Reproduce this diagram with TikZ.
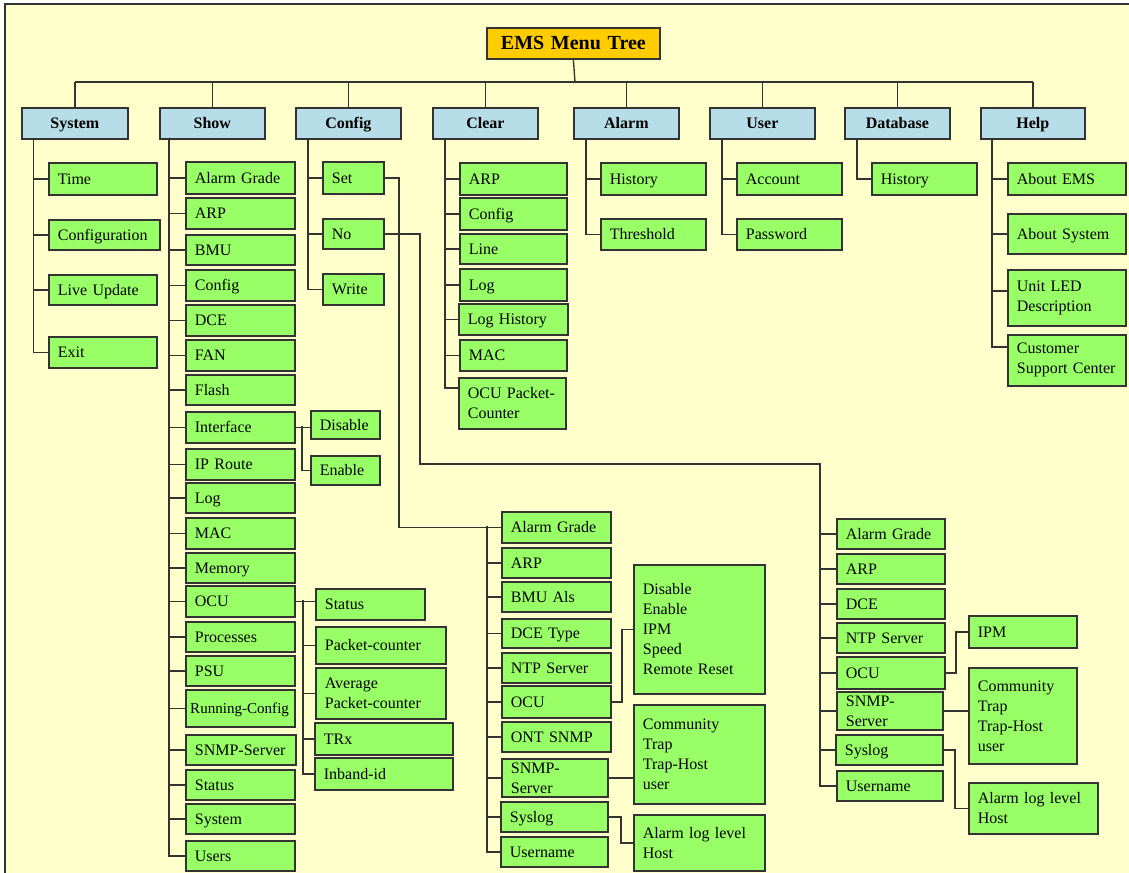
\documentclass[tikz,border=0pt]{standalone}
\usepackage{fontspec}
\setmainfont{Liberation Serif}
\usetikzlibrary{calc}
\definecolor{bgy}{HTML}{FFFFCC}
\definecolor{grn}{HTML}{99FF66}
\definecolor{hdr}{HTML}{B7DEE8}
\definecolor{gold}{HTML}{FFCC00}
\definecolor{ln}{HTML}{333333}
\newcommand\mkbox[7][gone]{%
 \pgfmathsetmacro\mybw{(#5-#3)*0.75}%
 \pgfmathsetmacro\mybh{(#6-#4)*0.75}%
 \pgfmathsetmacro\mytw{(#5-#3)*0.75-13.5}%
 \node[#1,minimum width=\mybw pt,minimum height=\mybh pt,text width=\mytw pt,anchor=north west] (#2) at (#3,#4) {#7};}
\tikzset{
 base/.style={draw=ln,line width=1.3pt,inner xsep=6.75pt,inner ysep=0pt,font=\fontsize{12}{15}\selectfont},
 gbox/.style={base,fill=grn,align=left},
 gone/.style={gbox,text height=9.5pt,text depth=1.5pt},
 hbox/.style={base,fill=hdr,align=center,font=\fontsize{12}{15}\selectfont\bfseries,text height=9.5pt,text depth=1.5pt},
 tbox/.style={base,fill=gold,align=center,font=\fontsize{15}{18}\selectfont\bfseries,text height=11.5pt,text depth=2pt},
 conn/.style={draw=ln,line width=1pt},
}
\begin{document}
\begin{tikzpicture}[x=0.75pt,y=-0.75pt]
\useasboundingbox (0,0) rectangle (1129,873);
\fill[bgy] (5,4) rectangle (1129,873);
\draw[line width=1.2pt,ln] (5,873) -- (5,4) -- (1129,4);

% title and headers
\mkbox[tbox]{title}{486}{27}{659}{58}{EMS Menu Tree}
\mkbox[hbox]{sys}{21}{107}{127}{138}{System}
\mkbox[hbox]{show}{159}{107}{264}{138}{Show}
\mkbox[hbox]{cfg}{295}{107}{400}{138}{Config}
\mkbox[hbox]{clr}{432}{107}{537}{138}{Clear}
\mkbox[hbox]{alm}{573}{107}{678}{138}{Alarm}
\mkbox[hbox]{usr}{709}{107}{814}{138}{User}
\mkbox[hbox]{db}{844}{107}{949}{138}{Database}
\mkbox[hbox]{hlp}{980}{107}{1084}{138}{Help}

% System
\mkbox{sysa}{48}{162}{156}{194}{Time}
\mkbox{sysb}{48}{219}{159}{249}{Configuration}
\mkbox{sysc}{48}{274}{156}{304}{Live Update}
\mkbox{sysd}{48}{336}{156}{367}{Exit}

% Show
\mkbox{sh1}{185}{161}{294}{193}{Alarm Grade}
\mkbox{sh2}{185}{197}{294}{228}{ARP}
\mkbox{sh3}{185}{234}{294}{264}{BMU}
\mkbox{sh4}{185}{269}{294}{300}{Config}
\mkbox{sh5}{185}{304}{294}{335}{DCE}
\mkbox{sh6}{185}{339}{294}{370}{FAN}
\mkbox{sh7}{185}{374}{294}{404}{Flash}
\mkbox{sh8}{185}{411}{294}{442}{Interface}
\mkbox{sh9}{185}{448}{294}{479}{IP Route}
\mkbox{sh10}{185}{482}{294}{512}{Log}
\mkbox{sh11}{185}{517}{294}{548}{MAC}
\mkbox{sh12}{185}{552}{294}{582}{Memory}
\mkbox{sh13}{185}{585}{294}{616}{OCU}
\mkbox{sh14}{185}{621}{294}{651}{Processes}
\mkbox{sh15}{185}{655}{294}{685}{PSU}
\mkbox{sh16}{185}{689}{294}{726}{\mbox{\hspace{-3.5pt}\fontsize{11.3}{13}\selectfont Running-Config}}
\mkbox{sh17}{185}{734}{295}{764}{\mbox{SNMP-Server}}
\mkbox{sh18}{185}{769}{294}{799}{Status}
\mkbox{sh19}{185}{803}{294}{833}{System}
\mkbox{sh20}{185}{840}{294}{870}{Users}

\mkbox{shi1}{310}{410}{379}{438}{Disable}
\mkbox{shi2}{310}{455}{379}{484}{Enable}

\mkbox{sho1}{315}{588}{424}{619}{Status}
\mkbox{sho2}{315}{626}{445}{663}{\mbox{Packet-counter}}
\mkbox[gbox]{sho3}{315}{667}{445}{718}{Average\\\mbox{Packet-counter}}
\mkbox{sho4}{314}{722}{452}{754}{TRx}
\mkbox{sho5}{314}{757}{452}{789}{Inband-id}

% Config
\mkbox{cf1}{322}{161}{383}{193}{Set}
\mkbox{cf2}{322}{218}{383}{248}{No}
\mkbox{cf3}{322}{273}{383}{304}{Write}

% Clear
\mkbox{cl1}{459}{162}{566}{194}{ARP}
\mkbox{cl2}{459}{197}{566}{229}{Config}
\mkbox{cl3}{459}{233}{566}{263}{Line}
\mkbox{cl4}{459}{268}{566}{300}{Log}
\mkbox{cl5}{458}{303}{567}{334}{Log History}
\mkbox{cl6}{459}{339}{566}{370}{MAC}
\mkbox[gbox]{cl7}{458}{377}{565}{428}{\mbox{OCU Packet-}\\Counter}

% Alarm, User, Database
\mkbox{al1}{600}{162}{705}{194}{History}
\mkbox{al2}{600}{218}{705}{249}{Threshold}
\mkbox{us1}{736}{162}{841}{194}{Account}
\mkbox{us2}{736}{218}{841}{249}{Password}
\mkbox{db1}{871}{162}{976}{194}{History}

% Help
\mkbox{hp1}{1007}{162}{1125}{194}{About EMS}
\mkbox{hp2}{1007}{213}{1125}{253}{About System}
\mkbox[gbox]{hp3}{1007}{269}{1125}{325}{Unit LED\\Description}
\mkbox[gbox]{hp4}{1007}{334}{1125}{385}{Customer\\Support Center}

% Set list
\mkbox{st1}{501}{511}{610}{542}{Alarm Grade}
\mkbox{st2}{501}{547}{610}{577}{ARP}
\mkbox{st3}{501}{581}{610}{611}{BMU Als}
\mkbox{st4}{501}{618}{610}{647}{DCE Type}
\mkbox{st5}{501}{652}{610}{682}{NTP Server}
\mkbox{st6}{501}{685}{610}{717}{OCU}
\mkbox{st7}{501}{721}{610}{751}{ONT SNMP}
\mkbox[gbox]{st8}{501}{758}{607}{796}{SNMP-\\Server}
\mkbox{st9}{500}{801}{607}{831}{Syslog}
\mkbox{st10}{500}{836}{607}{866}{Username}
\mkbox[gbox]{sto}{633}{564}{764}{693}{Disable\\Enable\\IPM\\Speed\\Remote Reset}
\mkbox[gbox]{sts}{633}{704}{764}{803}{Community\\Trap\\Trap-Host\\user}
\mkbox[gbox]{sty}{633}{814}{764}{870}{Alarm log level\\Host}

% No list
\mkbox{no1}{836}{518}{944}{548}{Alarm Grade}
\mkbox{no2}{836}{553}{944}{583}{ARP}
\mkbox{no3}{836}{588}{944}{618}{DCE}
\mkbox{no4}{836}{622}{944}{652}{NTP Server}
\mkbox{no5}{836}{656}{944}{688}{OCU}
\mkbox[gbox]{no6}{836}{691}{942}{729}{SNMP-\\Server}
\mkbox{no7}{835}{734}{942}{764}{Syslog}
\mkbox{no8}{836}{770}{942}{800}{Username}
\mkbox{noi}{968}{615}{1076}{647}{IPM}
\mkbox[gbox]{nos}{968}{667}{1076}{763}{Community\\Trap\\Trap-Host\\user}
\mkbox[gbox]{noy}{968}{782}{1097}{833}{Alarm log level\\Host}

% ---------- connectors ----------
\coordinate (bus) at (575,82);
\draw[conn] (title.south) -- (bus);
\draw[conn] (sys.north |- bus) -- (hlp.north |- bus);
\foreach \n in {sys,show,cfg,clr,alm,usr,db,hlp}
  \draw[conn] (\n.north) -- (\n.north |- bus);

\coordinate (sysS) at (33.7,138);
\foreach \c in {sysa,sysb,sysc,sysd} \draw[conn] (sysS) |- (\c.west);

\coordinate (showS) at (169,138);
\foreach \c in {sh1,sh2,sh3,sh4,sh5,sh6,sh7,sh8,sh9,sh10,sh11,sh12,sh13,sh14,sh15,sh16,sh17,sh18,sh19,sh20}
  \draw[conn] (showS) |- (\c.west);

\coordinate (intfJ) at (302,426.5);
\draw[conn] (sh8.east) -- (sh8.east -| shi1.west);
\draw[conn] (intfJ) |- (shi2.west);

\coordinate (ocuJ) at (303,600.5);
\draw[conn] (sh13.east) -- (sh13.east -| sho1.west);
\foreach \c in {sho2,sho3,sho4,sho5} \draw[conn] (ocuJ) |- (\c.west);

\coordinate (cfgS) at (308,138);
\foreach \c in {cf1,cf2,cf3} \draw[conn] (cfgS) |- (\c.west);

\coordinate (clrS) at (445,138);
\foreach \c in {cl1,cl2,cl3,cl4,cl5,cl6} \draw[conn] (clrS) |- (\c.west);
\draw[conn] (clrS) |- ([yshift=11.5pt]cl7.west);

\coordinate (almS) at (586,138);
\foreach \c in {al1,al2} \draw[conn] (almS) |- (\c.west);
\coordinate (usrS) at (722,138);
\foreach \c in {us1,us2} \draw[conn] (usrS) |- (\c.west);
\coordinate (dbS) at (857,138);
\draw[conn] (dbS) |- (db1.west);

\coordinate (hlpS) at (992,138);
\draw[conn] (hlpS) |- (hp1.west);
\draw[conn] (hlpS) |- (hp2.west);
\draw[conn] (hlpS) |- ([yshift=5.2pt]hp3.west);
\draw[conn] (hlpS) |- ([yshift=10pt]hp4.west);

% Set branch
\coordinate (setA) at (399,175);
\draw[conn] (cf1.east) -- (cf1.east -| setA) |- (st1.west);
\coordinate (stS) at (487,526.5);
\foreach \c in {st2,st3,st4,st5,st6,st7,st8,st9,st10} \draw[conn] (stS) |- (\c.west);
\coordinate (stoJ) at (622,701);
\draw[conn] (st6.east) -- (st6.east -| stoJ) |- (sto.west);
\draw[conn] (st8.east) -- (st8.east -| sts.west);
\coordinate (styJ) at (621,816);
\draw[conn] (st9.east) -- (st9.east -| styJ) |- (sty.west);

% No branch
\coordinate (noA) at (420,464);
\coordinate (noB) at (820,464);
\draw[conn] (cf2.east) -| (noA) -- (noB) |- (no1.west);
\foreach \c in {no2,no3,no4,no5,no6,no7,no8} \draw[conn] (noB) |- (\c.west);
\coordinate (noiJ) at (956,672);
\draw[conn] (no5.east) -- (no5.east -| noiJ) |- (noi.west);
\draw[conn] (no6.east) -- (no6.east -| nos.west);
\coordinate (noyJ) at (955,749);
\draw[conn] (no7.east) -- (no7.east -| noyJ) |- (noy.west);
\end{tikzpicture}
\end{document}
